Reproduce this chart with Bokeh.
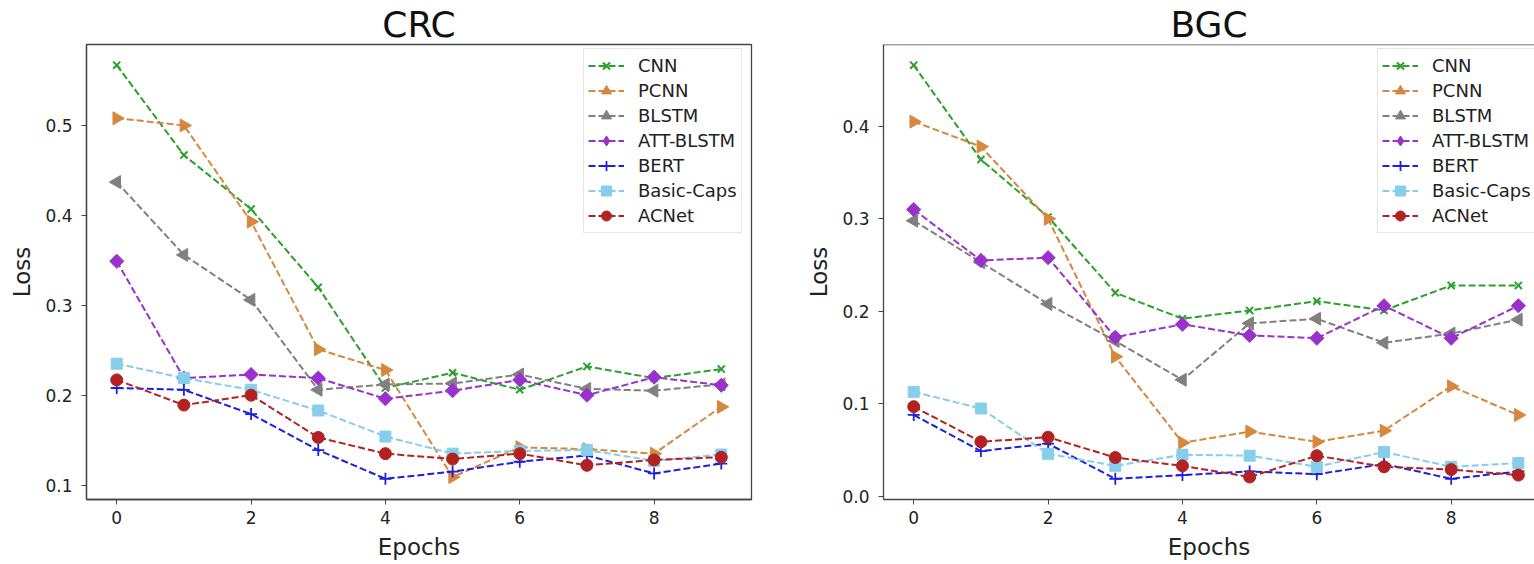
import numpy as np
from bokeh.plotting import figure
from bokeh.layouts import row
from bokeh.models import FixedTicker, PrintfTickFormatter, Span, Range1d, LegendItem
from bokeh.embed import file_html
from bokeh.resources import INLINE

epochs = list(range(10))
models = ["CNN", "PCNN", "BLSTM", "ATT-BLSTM", "BERT", "Basic-Caps", "ACNet"]

# CRC loss values
crc_cnn = [0.567, 0.467, 0.407, 0.320, 0.208, 0.225, 0.206, 0.232, 0.219, 0.229]
crc_pcnn = [0.508, 0.500, 0.393, 0.251, 0.228, 0.109, 0.142, 0.140, 0.135, 0.187]
crc_blstm = [0.437, 0.356, 0.306, 0.206, 0.212, 0.213, 0.223, 0.207, 0.205, 0.212]
crc_att = [0.349, 0.219, 0.223, 0.219, 0.196, 0.205, 0.217, 0.200, 0.220, 0.211]
crc_bert = [0.208, 0.206, 0.179, 0.139, 0.107, 0.115, 0.126, 0.133, 0.113, 0.124]
crc_caps = [0.235, 0.219, 0.206, 0.183, 0.154, 0.135, 0.138, 0.139, 0.127, 0.134]
crc_acnet = [0.217, 0.189, 0.200, 0.153, 0.135, 0.129, 0.135, 0.122, 0.128, 0.131]

# BGC loss values
bgc_cnn = [0.466, 0.364, 0.302, 0.220, 0.192, 0.201, 0.211, 0.201, 0.228, 0.228]
bgc_pcnn = [0.405, 0.378, 0.300, 0.151, 0.058, 0.070, 0.059, 0.071, 0.119, 0.088]
bgc_blstm = [0.298, 0.253, 0.208, 0.168, 0.126, 0.187, 0.192, 0.166, 0.176, 0.191]
bgc_att = [0.310, 0.255, 0.258, 0.172, 0.186, 0.174, 0.171, 0.206, 0.171, 0.206]
bgc_bert = [0.088, 0.049, 0.057, 0.019, 0.023, 0.027, 0.024, 0.035, 0.019, 0.027]
bgc_caps = [0.113, 0.095, 0.046, 0.033, 0.045, 0.044, 0.032, 0.048, 0.032, 0.036]
bgc_acnet = [0.097, 0.059, 0.064, 0.042, 0.033, 0.021, 0.044, 0.032, 0.029, 0.023]

crc_ticks_y = [0.1, 0.2, 0.3, 0.4, 0.5]
bgc_ticks_y = [0.0, 0.1, 0.2, 0.3, 0.4]
ticks_x = [0, 2, 4, 6, 8]

crc = [crc_cnn, crc_pcnn, crc_blstm, crc_att, crc_bert, crc_caps, crc_acnet]
bgc = [bgc_cnn, bgc_pcnn, bgc_blstm, bgc_att, bgc_bert, bgc_caps, bgc_acnet]

styles = {
    "CNN": dict(color="#2ca02c", marker="x", angle=0.0, size=10, lw=2),
    "PCNN": dict(color="#d6883f", marker="triangle", angle=-np.pi / 2, size=13, lw=1),
    "BLSTM": dict(color="#808080", marker="triangle", angle=np.pi / 2, size=13, lw=1),
    "ATT-BLSTM": dict(color="#9932cc", marker="square", angle=np.pi / 4, size=10, lw=1),
    "BERT": dict(color="#1f1fe0", marker="cross", angle=0.0, size=12, lw=1.8),
    "Basic-Caps": dict(color="#87ceeb", marker="square", angle=0.0, size=11, lw=1),
    "ACNet": dict(color="#b22222", marker="circle", angle=0.0, size=12, lw=1),
}

FONT = "DejaVu Sans"
TXT = "#222222"
AX = "#444444"


def make_fig(title, series, yticks, width, border_left, border_right, x_end,
             legend_x, title_offset, right_open):
    allv = np.concatenate([np.array(s) for s in series])
    lo, hi = allv.min(), allv.max()
    pad = 0.05 * (hi - lo)
    p = figure(width=width, height=562, output_backend="svg", toolbar_location=None,
               x_range=Range1d(-0.45, x_end), y_range=Range1d(lo - pad, hi + pad),
               min_border_left=border_left, min_border_right=border_right,
               min_border_top=44, min_border_bottom=60)
    p.title.text = title
    p.title.align = "center"
    p.title.text_font = FONT
    p.title.text_font_size = "36px"
    p.title.text_font_style = "normal"
    p.title.text_color = "#111111"
    p.title.standoff = 0
    p.title.offset = title_offset
    p.grid.visible = False
    p.background_fill_color = "white"
    p.border_fill_color = "white"
    if right_open:
        p.outline_line_color = None
        top = Span(location=hi + pad, dimension="width", line_color=AX, line_width=1.5)
        p.add_layout(top)
    else:
        p.outline_line_color = AX
        p.outline_line_width = 1.3

    items = []
    for name, ys in zip(models, series):
        st = styles[name]
        lr = p.line(epochs, ys, line_color=st["color"], line_width=2, line_dash="7 3")
        sr = p.scatter(epochs, ys, marker=st["marker"], size=st["size"], angle=st["angle"],
                       fill_color=st["color"], line_color=st["color"], line_width=st["lw"])
        rends = [lr, sr]
        if name == "ATT-BLSTM":
            # legend-only proxy so the legend shows a diamond (legend ignores marker angle)
            proxy = p.scatter([np.nan], [np.nan], marker="diamond", size=15,
                              fill_color=st["color"], line_color=st["color"])
            rends = [lr, proxy]
        items.append(LegendItem(label=name, renderers=rends))

    for ax in (p.xaxis[0], p.yaxis[0]):
        ax.axis_line_color = AX
        ax.axis_line_width = 1.3
        ax.major_tick_line_color = AX
        ax.major_tick_out = 5
        ax.major_tick_in = 0
        ax.minor_tick_line_color = None
        ax.major_label_text_font = FONT
        ax.major_label_text_font_size = "17px"
        ax.major_label_text_color = TXT
        ax.axis_label_text_font = FONT
        ax.axis_label_text_font_size = "23px"
        ax.axis_label_text_font_style = "normal"
        ax.axis_label_text_color = TXT
    p.xaxis[0].ticker = FixedTicker(ticks=ticks_x)
    p.yaxis[0].ticker = FixedTicker(ticks=yticks)
    p.yaxis[0].formatter = PrintfTickFormatter(format="%.1f")
    p.xaxis[0].major_label_standoff = 6
    p.yaxis[0].major_label_standoff = 9
    p.xaxis[0].axis_label = "Epochs"
    p.yaxis[0].axis_label = "Loss"
    p.xaxis[0].axis_label_standoff = 7
    p.yaxis[0].axis_label_standoff = 7

    from bokeh.models import Legend
    lg = Legend(items=items)
    p.add_layout(lg, "center")
    lg.location = (legend_x, 266)
    lg.label_text_font = FONT
    lg.label_text_font_size = "18px"
    lg.label_text_color = TXT
    lg.glyph_width = 36
    lg.glyph_height = 25
    lg.label_height = 25
    lg.label_standoff = 14
    lg.spacing = 0
    lg.padding = 4
    lg.margin = 0
    lg.border_line_color = "#cccccc"
    lg.border_line_width = 1
    lg.background_fill_alpha = 0.8
    return p


p1 = make_fig("CRC", crc, crc_ticks_y, 798, 86, 47, 9.45, 497, 0, False)
p2 = make_fig("BGC", bgc, bgc_ticks_y, 736, 85, 0, 9.24, 494, 11, True)

layout = row(p1, p2)
open("out.html", "w").write(file_html(layout, INLINE))
